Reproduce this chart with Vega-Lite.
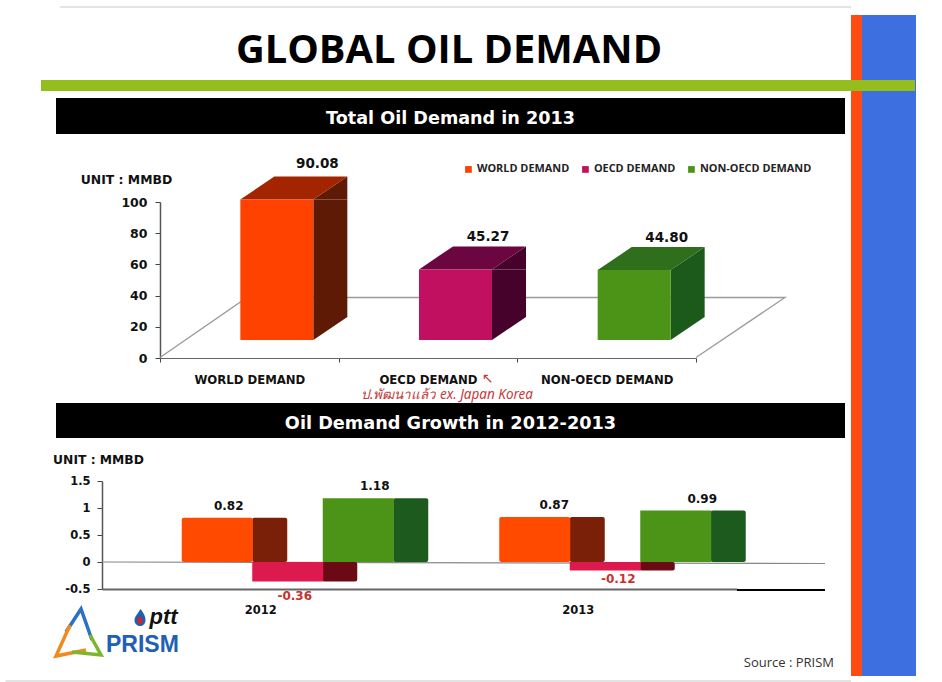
{
"$schema":"https://vega.github.io/schema/vega-lite/v6.json",
"padding":0,"background":"white","spacing":0,"bounds":"flush",
"config":{"view":{"stroke":null},"axis":{"grid":false,"labelFont":"DejaVu Sans","labelFontWeight":"bold","labelColor":"#111","titleFont":"DejaVu Sans","titleFontWeight":"bold","titleColor":"#111"},"text":{"font":"DejaVu Sans"}},
"datasets":{
"total":[{"series":"WORLD DEMAND","value":90.08,"label":"90.08"},{"series":"OECD DEMAND","value":45.27,"label":"45.27"},{"series":"NON-OECD DEMAND","value":44.80,"label":"44.80"}],
"growth":[{"year":"2012","series":"WORLD","value":0.82,"label":"0.82"},{"year":"2012","series":"OECD","value":-0.36,"label":"-0.36"},{"year":"2012","series":"NON-OECD","value":1.18,"label":"1.18"},{"year":"2013","series":"WORLD","value":0.87,"label":"0.87"},{"year":"2013","series":"OECD","value":-0.12,"label":"-0.12"},{"year":"2013","series":"NON-OECD","value":0.99,"label":"0.99"}]
},
"vconcat":[
{"width":851,"height":98,"data":{"values":[{"t":"GLOBAL OIL DEMAND"}]},
 "mark":{"type":"text","font":"Open Sans","fontWeight":"bold","fontSize":39.8,"color":"#000","dy":2},
 "encoding":{"x":{"field":"t","type":"nominal","axis":null,"scale":{"range":[38,860],"paddingInner":0,"paddingOuter":0}},"text":{"field":"t"}}},
{"width":851,"height":36,"data":{"values":[{"t":"Total Oil Demand in 2013"}]},
 "encoding":{"x":{"field":"t","type":"nominal","axis":null,"scale":{"range":[56,845],"paddingInner":0,"paddingOuter":0}}},
 "layer":[{"mark":{"type":"bar","color":"#000"}},{"mark":{"type":"text","color":"#fff","fontWeight":"bold","fontSize":17.6,"dy":3},"encoding":{"text":{"field":"t"}}}]},
{"width":851,"height":269,"data":{"name":"total"},
 "resolve":{"scale":{"color":"independent"}},
 "encoding":{
  "x":{"field":"series","type":"nominal","sort":null,"scale":{"domain":["WORLD DEMAND","OECD DEMAND","NON-OECD DEMAND"],"range":[160,696],"paddingInner":0,"paddingOuter":0},
   "axis":{"title":null,"orient":"bottom","offset":-45,"tickBand":"extent","labelAngle":0,"labelFontSize":11.7,"labelPadding":12,"tickSize":4,"domainColor":"#666","tickColor":"#444"}},
  "y":{"field":"value","type":"quantitative","stack":null,"scale":{"domain":[0,100],"range":[224,68],"nice":false},
   "axis":{"title":"UNIT : MMBD","titleAngle":0,"titleX":-34,"titleY":45,"titleAlign":"center","titleBaseline":"middle","titleFontSize":12.4,"offset":-160,"values":[0,20,40,60,80,100],"labelFontSize":12.5,"labelPadding":8,"tickSize":5,"domainColor":"#555","domainWidth":1.5,"tickColor":"#444"}}
 },
 "layer":[
  {"data":{"values":[{"part":"chart floor"}]},"mark":{"type":"point","shape":"M-265.5,89L-178.5,29L359.5,29L270.5,89","size":4,"filled":false,"stroke":"#9a9a9a","strokeWidth":1.3,"opacity":1},"encoding":{"x":{"value":425.5},"y":{"value":134.5}}},
  {"mark":{"type":"bar","size":34,"xOffset":81,"yOffset":-18,"y2Offset":-41},"encoding":{"y2":{"datum":0},"color":{"field":"series","sort":null,"legend":null,"scale":{"domain":["WORLD DEMAND","OECD DEMAND","NON-OECD DEMAND"],"range":["#5E1A04","#47022C","#1B5A1B"]}}}},
  {"mark":{"type":"point","filled":true,"opacity":1,"size":4,"shape":"M64,-18L98,-41L98,-18Z"},"encoding":{"color":{"field":"series","sort":null,"legend":null,"scale":{"domain":["WORLD DEMAND","OECD DEMAND","NON-OECD DEMAND"],"range":["#5E1A04","#47022C","#1B5A1B"]}}}},
  {"mark":{"type":"point","filled":true,"opacity":1,"size":4,"shape":"M64,-18L98,-41L64,-41Z"},"encoding":{"y":{"datum":0},"color":{"field":"series","sort":null,"legend":null,"scale":{"domain":["WORLD DEMAND","OECD DEMAND","NON-OECD DEMAND"],"range":["#5E1A04","#47022C","#1B5A1B"]}}}},
  {"mark":{"type":"point","filled":true,"opacity":1,"size":4,"shape":"M-9,-18L64,-18L98,-41L25,-41Z"},"encoding":{"color":{"field":"series","sort":null,"legend":null,"scale":{"domain":["WORLD DEMAND","OECD DEMAND","NON-OECD DEMAND"],"range":["#A32500","#6B0640","#2F6E1A"]}}}},
  {"mark":{"type":"bar","size":73,"xOffset":27.5,"yOffset":-18,"y2Offset":-18},"encoding":{"y2":{"datum":0},"color":{"field":"series","sort":null,"scale":{"domain":["WORLD DEMAND","OECD DEMAND","NON-OECD DEMAND"],"range":["#FF4200","#C0105F","#4C9418"]},
    "legend":{"title":null,"orient":"none","legendX":463,"legendY":30,"direction":"horizontal","columns":3,"gridAlign":"none","columnPadding":10,"symbolType":"square","symbolSize":45,"symbolOpacity":1,"labelFont":"Open Sans","labelFontWeight":"bold","labelFontSize":10.9,"labelColor":"#222","labelOffset":3,"padding":0}}}},
  {"transform":[{"filter":"datum.series==='WORLD DEMAND'"}],"mark":{"type":"text","fontWeight":"bold","fontSize":13.5,"color":"#111","dx":68,"dy":-53.5},"encoding":{"text":{"field":"label"}}},
  {"transform":[{"filter":"datum.series!=='WORLD DEMAND'"}],"mark":{"type":"text","fontWeight":"bold","fontSize":13.5,"color":"#111","dx":60,"dy":-50},"encoding":{"text":{"field":"label"}}},
  {"data":{"values":[{"note":"ป.พัฒนาแล้ว ex. Japan Korea"}]},"mark":{"type":"text","font":"Noto Sans","fontStyle":"italic","fontSize":13.5,"color":"#C83A3A","dx":21.5,"dy":126.5},"encoding":{"x":{"value":425.5},"y":{"value":134.5},"text":{"field":"note"}}},
  {"data":{"values":[{"note":"↖"}]},"mark":{"type":"text","fontSize":14,"color":"#C83A3A","dx":62,"dy":110},"encoding":{"x":{"value":425.5},"y":{"value":134.5},"text":{"field":"note"}}}
 ]},
{"width":851,"height":35,"data":{"values":[{"t":"Oil Demand Growth in 2012-2013"}]},
 "encoding":{"x":{"field":"t","type":"nominal","axis":null,"scale":{"range":[56,845],"paddingInner":0,"paddingOuter":0}}},
 "layer":[{"mark":{"type":"bar","color":"#000"}},{"mark":{"type":"text","color":"#fff","fontWeight":"bold","fontSize":17.7,"dy":3},"encoding":{"text":{"field":"t"}}}]},
{"width":851,"height":244,"data":{"name":"growth"},
 "encoding":{
  "x":{"field":"year","type":"nominal","scale":{"domain":["2012","2013"],"range":[102,737],"paddingInner":0,"paddingOuter":0},
   "axis":{"title":null,"orient":"bottom","offset":-93,"labelAngle":0,"labelFontSize":11.5,"labelPadding":15,"ticks":false,"domainColor":"#666","domainWidth":2}},
  "y":{"field":"value","type":"quantitative","stack":null,"scale":{"domain":[-0.5,1.5],"range":[151,43],"nice":false},
   "axis":{"title":"UNIT : MMBD","titleAngle":0,"titleX":-4,"titleY":21,"titleAlign":"center","titleBaseline":"middle","titleFontSize":12.3,"offset":-102,"values":[-0.5,0,0.5,1,1.5],"labelExpr":"''+datum.value","labelFontSize":11.5,"labelPadding":7,"tickSize":5,"domainColor":"#555","domainWidth":1.5,"tickColor":"#444"}}
 },
 "layer":[
  {"data":{"values":[{"line":"zero line"}]},"mark":{"type":"point","shape":"M-323.5,2L399.5,3.5","size":4,"filled":false,"stroke":"#888","strokeWidth":1.2,"opacity":1},"encoding":{"x":{"value":425.5},"y":{"value":122}}},
  {"data":{"values":[{"line":"lower line"}]},"mark":{"type":"point","shape":"M311.5,30L399.5,30","size":4,"filled":false,"stroke":"#000","strokeWidth":2,"opacity":1},"encoding":{"x":{"value":425.5},"y":{"value":122}}},
  {"transform":[{"filter":"datum.series==='WORLD'&&datum.year==='2012'"}],"mark":{"type":"bar","size":35,"xOffset":9,"color":"#7B2008","cornerRadius":2}},
  {"transform":[{"filter":"datum.series==='WORLD'&&datum.year==='2012'"}],"mark":{"type":"bar","size":71,"xOffset":-43.5,"color":"#FF4A00","cornerRadius":2}},
  {"transform":[{"filter":"datum.series==='OECD'&&datum.year==='2012'"}],"mark":{"type":"bar","size":35,"xOffset":79,"color":"#6B0A14","cornerRadius":2}},
  {"transform":[{"filter":"datum.series==='OECD'&&datum.year==='2012'"}],"mark":{"type":"bar","size":71,"xOffset":27,"color":"#DC1A4E"}},
  {"transform":[{"filter":"datum.series==='NON-OECD'&&datum.year==='2012'"}],"mark":{"type":"bar","size":35,"xOffset":150,"color":"#1D5A1E","cornerRadius":2}},
  {"transform":[{"filter":"datum.series==='NON-OECD'&&datum.year==='2012'"}],"mark":{"type":"bar","size":71,"xOffset":97.5,"color":"#4C9418"}},
  {"transform":[{"filter":"datum.series==='WORLD'&&datum.year==='2013'"}],"mark":{"type":"bar","size":35,"xOffset":9,"yOffset":2,"y2Offset":2,"color":"#7B2008","cornerRadius":2}},
  {"transform":[{"filter":"datum.series==='WORLD'&&datum.year==='2013'"}],"mark":{"type":"bar","size":71,"xOffset":-43.5,"yOffset":2,"y2Offset":2,"color":"#FF4A00","cornerRadius":2}},
  {"transform":[{"filter":"datum.series==='OECD'&&datum.year==='2013'"}],"mark":{"type":"bar","size":35,"xOffset":79,"yOffset":2,"y2Offset":2,"color":"#6B0A14","cornerRadius":2}},
  {"transform":[{"filter":"datum.series==='OECD'&&datum.year==='2013'"}],"mark":{"type":"bar","size":71,"xOffset":27,"yOffset":2,"y2Offset":2,"color":"#DC1A4E"}},
  {"transform":[{"filter":"datum.series==='NON-OECD'&&datum.year==='2013'"}],"mark":{"type":"bar","size":35,"xOffset":150,"yOffset":2,"y2Offset":2,"color":"#1D5A1E","cornerRadius":2}},
  {"transform":[{"filter":"datum.series==='NON-OECD'&&datum.year==='2013'"}],"mark":{"type":"bar","size":71,"xOffset":97.5,"yOffset":2,"y2Offset":2,"color":"#4C9418"}},
  {"transform":[{"filter":"datum.year==='2012'&&datum.series==='WORLD'"}],"mark":{"type":"text","fontWeight":"bold","fontSize":12,"color":"#111","dx":-32,"dy":-12},"encoding":{"text":{"field":"label"}}},
  {"transform":[{"filter":"datum.year==='2012'&&datum.series==='NON-OECD'"}],"mark":{"type":"text","fontWeight":"bold","fontSize":12,"color":"#111","dx":114,"dy":-12},"encoding":{"text":{"field":"label"}}},
  {"transform":[{"filter":"datum.year==='2013'&&datum.series==='WORLD'"}],"mark":{"type":"text","fontWeight":"bold","fontSize":12,"color":"#111","dx":-24,"dy":-10},"encoding":{"text":{"field":"label"}}},
  {"transform":[{"filter":"datum.year==='2013'&&datum.series==='NON-OECD'"}],"mark":{"type":"text","fontWeight":"bold","fontSize":12,"color":"#111","dx":124,"dy":-10},"encoding":{"text":{"field":"label"}}},
  {"transform":[{"filter":"datum.year==='2012'&&datum.series==='OECD'"}],"mark":{"type":"text","fontWeight":"bold","fontSize":12,"color":"#C8322E","dx":34,"dy":15},"encoding":{"text":{"field":"label"}}},
  {"transform":[{"filter":"datum.year==='2013'&&datum.series==='OECD'"}],"mark":{"type":"text","fontWeight":"bold","fontSize":12,"color":"#C8322E","dx":40,"dy":11},"encoding":{"text":{"field":"label"}}},
  {"data":{"values":[{"logo":"blue"}]},"mark":{"type":"point","shape":"M-359.5,72L-344.5,49L-333.5,80","size":4,"filled":false,"stroke":"#2F6FC4","strokeWidth":3.5,"opacity":1},"encoding":{"x":{"value":425.5},"y":{"value":122}}},
  {"data":{"values":[{"logo":"orange"}]},"mark":{"type":"point","shape":"M-355.5,65L-369.5,96L-339.5,90","size":4,"filled":false,"stroke":"#F08A1D","strokeWidth":3.5,"opacity":1},"encoding":{"x":{"value":425.5},"y":{"value":122}}},
  {"data":{"values":[{"logo":"green"}]},"mark":{"type":"point","shape":"M-335.5,75L-324.5,95L-353.5,92","size":4,"filled":false,"stroke":"#7DB52C","strokeWidth":3.5,"opacity":1},"encoding":{"x":{"value":425.5},"y":{"value":122}}},
  {"data":{"values":[{"logo":"flame"}]},"mark":{"type":"point","shape":"M-285,49C-281,54 -280,57 -280,60C-280,64 -283,66 -285,66C-288,66 -291,64 -291,60C-291,57 -288,54 -285,49Z","size":4,"filled":true,"color":"#1F5FB0","opacity":1},"encoding":{"x":{"value":425.5},"y":{"value":122}}},
  {"data":{"values":[{"logo":"flame red"}]},"mark":{"type":"point","shape":"M-285.5,56C-283.5,58 -283,59.5 -283,61C-283,63 -284.5,64 -285.5,64C-287,64 -288,63 -288,61C-288,59.5 -287,58 -285.5,56Z","size":4,"filled":true,"color":"#D8231F","opacity":1},"encoding":{"x":{"value":425.5},"y":{"value":122}}},
  {"data":{"values":[{"t":"ptt"}]},"mark":{"type":"text","font":"Liberation Sans","fontWeight":"bold","fontStyle":"italic","fontSize":22,"color":"#111","align":"left","dx":-276,"dy":57},"encoding":{"x":{"value":425.5},"y":{"value":122},"text":{"field":"t"}}},
  {"data":{"values":[{"t":"PRISM"}]},"mark":{"type":"text","font":"Liberation Sans","fontWeight":"bold","fontSize":23,"color":"#2060B4","align":"left","dx":-319.5,"dy":85},"encoding":{"x":{"value":425.5},"y":{"value":122},"text":{"field":"t"}}},
  {"data":{"values":[{"t":"Source :  PRISM"}]},"mark":{"type":"text","font":"Open Sans","fontSize":13,"color":"#333","align":"right","dx":408.5,"dy":103},"encoding":{"x":{"value":425.5},"y":{"value":122},"text":{"field":"t"}}},
  {"data":{"values":[{"part":"frame"}]},"mark":{"type":"point","filled":false,"opacity":1,"size":4,"stroke":"#c8c8c8","strokeWidth":1,"shape":"M-365.5,-553L425.5,-553M-420,121L425.5,121"},"encoding":{"x":{"value":425.5},"y":{"value":122}}},
  {"data":{"values":[{"part":"red stripe"}]},"mark":{"type":"point","filled":true,"opacity":1,"size":4,"color":"#FF4A12","shape":"M425.5,-545L436.5,-545L436.5,116L425.5,116Z"},"encoding":{"x":{"value":425.5},"y":{"value":122}}},
  {"data":{"values":[{"part":"blue stripe"}]},"mark":{"type":"point","filled":true,"opacity":1,"size":4,"color":"#3D6FE0","shape":"M436.5,-545L490.5,-545L490.5,116L436.5,116Z"},"encoding":{"x":{"value":425.5},"y":{"value":122}}},
  {"data":{"values":[{"part":"green band"}]},"mark":{"type":"point","filled":true,"opacity":1,"size":4,"color":"#93BE1E","shape":"M-384.5,-480L489.5,-480L489.5,-469L-384.5,-469Z"},"encoding":{"x":{"value":425.5},"y":{"value":122}}}
 ]}
]
}
